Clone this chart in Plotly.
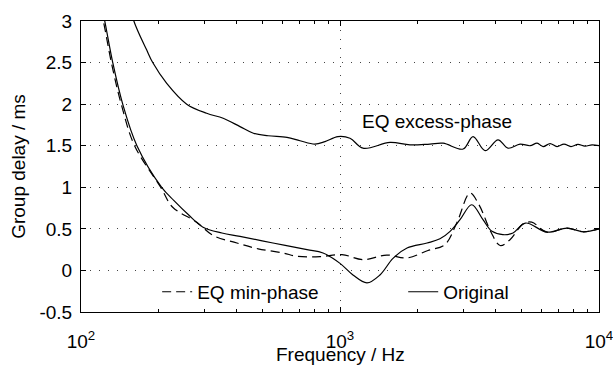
import plotly.graph_objects as go

# ---- data ----
orig_f = [118, 123.5, 132.6, 144.9, 164.4, 204.9, 228.6, 260, 296, 350, 411, 551, 746, 860,
          1000, 1122, 1271, 1426, 1602, 1815, 2168, 2432, 2661, 2907, 3225, 3565, 3863,
          4257, 4656, 5200, 6300, 7520, 8670, 10000]
orig_gd = [3.3, 3.0, 2.5, 2.0, 1.5, 1.0, 0.84, 0.67, 0.52, 0.45, 0.41, 0.33, 0.25, 0.21,
           0.085, -0.055, -0.15, -0.055, 0.145, 0.27, 0.33, 0.38, 0.47, 0.61, 0.79, 0.61, 0.47,
           0.43, 0.45, 0.57, 0.46, 0.51, 0.465, 0.50]

minph_f = [116, 122, 131, 143, 161, 203, 226, 280, 324, 400, 483, 603, 682, 837, 1018, 1227,
           1515, 1815, 2186, 2541, 2831, 3177, 3441, 3830, 4150, 4533, 5094, 5500, 6300,
           7520, 8670, 10000]
minph_gd = [3.3, 3.0, 2.5, 2.0, 1.5, 1.0, 0.76, 0.58, 0.42, 0.33, 0.26, 0.21, 0.17, 0.165,
            0.19, 0.13, 0.185, 0.15, 0.24, 0.31, 0.58, 0.93, 0.79, 0.46, 0.30, 0.37, 0.56,
            0.58, 0.46, 0.51, 0.465, 0.50]

exc_f = [152, 160, 179.4, 189.2, 214.3, 256, 305.7, 354, 411, 463, 528, 624, 701, 800, 875,
         982, 1093, 1227, 1560, 1862, 2224, 2500, 2987, 3264, 3633, 4075, 4455, 4956, 5420,
         5768, 6085, 6474, 6886, 7325, 7792, 8290, 8830, 9400, 10000]
exc_gd = [3.3, 3.0, 2.65, 2.5, 2.25, 2.0, 1.89, 1.83, 1.73, 1.65, 1.62, 1.60, 1.56, 1.52,
          1.55, 1.61, 1.59, 1.47, 1.54, 1.51, 1.52, 1.53, 1.46, 1.61, 1.44, 1.57, 1.47, 1.52,
          1.50, 1.53, 1.49, 1.525, 1.49, 1.52, 1.49, 1.515, 1.495, 1.51, 1.50]

x_tickvals = [100, 1000, 10000]
x_ticktext = ["10<sup>2</sup>", "10<sup>3</sup>", "10<sup>4</sup>"]
x_minor_vals = [200, 300, 400, 500, 600, 700, 800, 900,
                2000, 3000, 4000, 5000, 6000, 7000, 8000, 9000]
y_tickvals = [-0.5, 0, 0.5, 1, 1.5, 2, 2.5, 3]
y_ticktext = ["-0.5", "0", "0.5", "1", "1.5", "2", "2.5", "3"]

FONT = "Liberation Sans, Arial, sans-serif"
FS = 19

fig = go.Figure()
fig.add_trace(go.Scatter(x=exc_f, y=exc_gd, mode="lines", name="EQ excess-phase",
                         line=dict(color="black", width=1.2, shape="spline", smoothing=1.0),
                         showlegend=False))
fig.add_trace(go.Scatter(x=minph_f, y=minph_gd, mode="lines", name="EQ min-phase",
                         line=dict(color="black", width=1.2, dash="9px,5px", shape="spline",
                                   smoothing=1.0),
                         legend="legend"))
fig.add_trace(go.Scatter(x=orig_f, y=orig_gd, mode="lines", name="Original",
                         line=dict(color="black", width=1.2, shape="spline", smoothing=1.0),
                         legend="legend2"))

fig.add_annotation(text="EQ excess-phase", xref="paper", yref="paper", x=0.688, y=0.653,
                   xanchor="center", yanchor="middle",
                   showarrow=False, font=dict(family=FONT, size=FS, color="black"))
# x-axis title placed as text below the tick labels
fig.add_annotation(text="Frequency / Hz", xref="paper", yref="paper", x=0.5, y=-0.147,
                   xanchor="center", yanchor="middle",
                   showarrow=False, font=dict(family=FONT, size=FS, color="black"))

legend_common = dict(orientation="h", bgcolor="rgba(0,0,0,0)", borderwidth=0,
                     font=dict(family=FONT, size=FS, color="black"),
                     xanchor="left", yanchor="middle", y=0.069)

fig.update_layout(
    width=613, height=367,
    margin=dict(l=81, r=14, t=21, b=55),
    paper_bgcolor="white", plot_bgcolor="white",
    font=dict(family=FONT, size=FS, color="black"),
    legend=dict(x=0.147, **legend_common),
    legend2=dict(x=0.622, **legend_common),
    xaxis=dict(type="log", range=[2, 4], tickmode="array", tickvals=x_tickvals,
               ticktext=x_ticktext, ticks="inside", ticklen=5, tickcolor="black",
               showline=True, linecolor="black", linewidth=1, mirror="ticks",
               showgrid=True, gridcolor="#444", griddash="1px,8px", gridwidth=1,
               minor=dict(tickmode="array", tickvals=x_minor_vals, ticks="inside",
                          ticklen=3, tickcolor="black", showgrid=False),
               ticklabelstandoff=12, ticklabeloverflow="allow", zeroline=False,
               automargin=False),
    yaxis=dict(range=[-0.5, 3], tickmode="array", tickvals=y_tickvals, ticktext=y_ticktext,
               ticks="inside", ticklen=5, tickcolor="black",
               showline=True, linecolor="black", linewidth=1, mirror="ticks",
               showgrid=True, gridcolor="#444", griddash="1px,8px", gridwidth=1,
               zeroline=False, ticklabelstandoff=4, automargin=False,
               title=dict(text="Group delay / ms", standoff=8,
                          font=dict(family=FONT, size=FS))),
)

fig.write_html("out.html")
